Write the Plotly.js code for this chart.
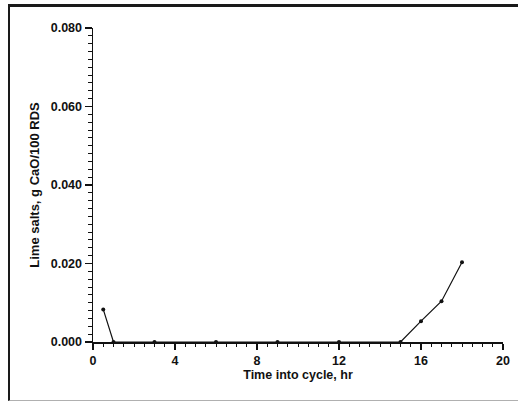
<!DOCTYPE html>
<html>
<head>
<meta charset="utf-8">
<script src="https://cdn.plot.ly/plotly-3.0.1.min.js"></script>
<style>
  html, body { margin: 0; padding: 0; background: #fff; }
  #wrap { position: relative; width: 518px; height: 401px; overflow: hidden; }
  #chart { position: absolute; left: 0; top: 0; width: 518px; height: 401px; }
  #frame { position: absolute; left: 8px; top: 4px; width: 530px; height: 393px;
           border-left: 2px solid #1a1a1a; border-top: 3px solid #1a1a1a;
           border-bottom: 1px solid #b0b0b0; pointer-events: none; }
</style>
</head>
<body>
<div id="wrap">
  <div id="chart"></div>
  <div id="frame"></div>
</div>
<script>
const timeHr = [0.5, 1, 3, 6, 9, 12, 15, 16, 17, 18];
const limeSalts = [0.0083, 0, 0, 0, 0, 0, 0, 0.0053, 0.0104, 0.0203];
const xTickVals = [0, 4, 8, 12, 16, 20];
const yTickVals = [0, 0.02, 0.04, 0.06, 0.08];

const fontFam = '"Liberation Sans", Arial, Helvetica, sans-serif';

const trace = {
  x: timeHr,
  y: limeSalts,
  type: 'scatter',
  mode: 'lines+markers',
  line: { color: '#111', width: 1.2 },
  marker: { color: '#111', size: 4 },
  cliponaxis: false,
  hoverinfo: 'skip'
};

const layout = {
  width: 518,
  height: 401,
  margin: { l: 93, r: 15, t: 28, b: 59, pad: 0 },
  paper_bgcolor: '#fff',
  plot_bgcolor: '#fff',
  showlegend: false,
  font: { family: fontFam, color: '#111' },
  xaxis: {
    range: [0, 20],
    tickvals: xTickVals,
    ticktext: xTickVals.map(String),
    ticks: 'outside',
    ticklen: 6,
    tickwidth: 1.2,
    tickcolor: '#111',
    minor: { dtick: 0.5, tick0: 0, ticks: 'outside', ticklen: 3, tickwidth: 1, tickcolor: '#111', showgrid: false },
    showline: true,
    linecolor: '#111',
    linewidth: 1.5,
    showgrid: false,
    zeroline: false,
    tickfont: { size: 12.5, family: fontFam, weight: 'bold', color: '#111' },
    title: { text: 'Time into cycle, hr', font: { size: 12.5, family: fontFam, weight: 'bold', color: '#111' }, standoff: 3 }
  },
  yaxis: {
    range: [0, 0.08],
    tickvals: yTickVals,
    tickformat: '.3f',
    ticks: 'outside',
    ticklen: 7,
    tickwidth: 1.2,
    tickcolor: '#111',
    minor: { dtick: 0.002, tick0: 0, ticks: 'outside', ticklen: 4, tickwidth: 1, tickcolor: '#111', showgrid: false },
    showline: true,
    linecolor: '#111',
    linewidth: 1.5,
    showgrid: false,
    zeroline: false,
    tickfont: { size: 12.5, family: fontFam, weight: 'bold', color: '#111' },
    title: { text: 'Lime salts, g CaO/100 RDS', font: { size: 13, family: fontFam, weight: 'bold', color: '#111' }, standoff: 8 }
  }
};

Plotly.newPlot('chart', [trace], layout, { displayModeBar: false, staticPlot: true });
</script>
</body>
</html>
